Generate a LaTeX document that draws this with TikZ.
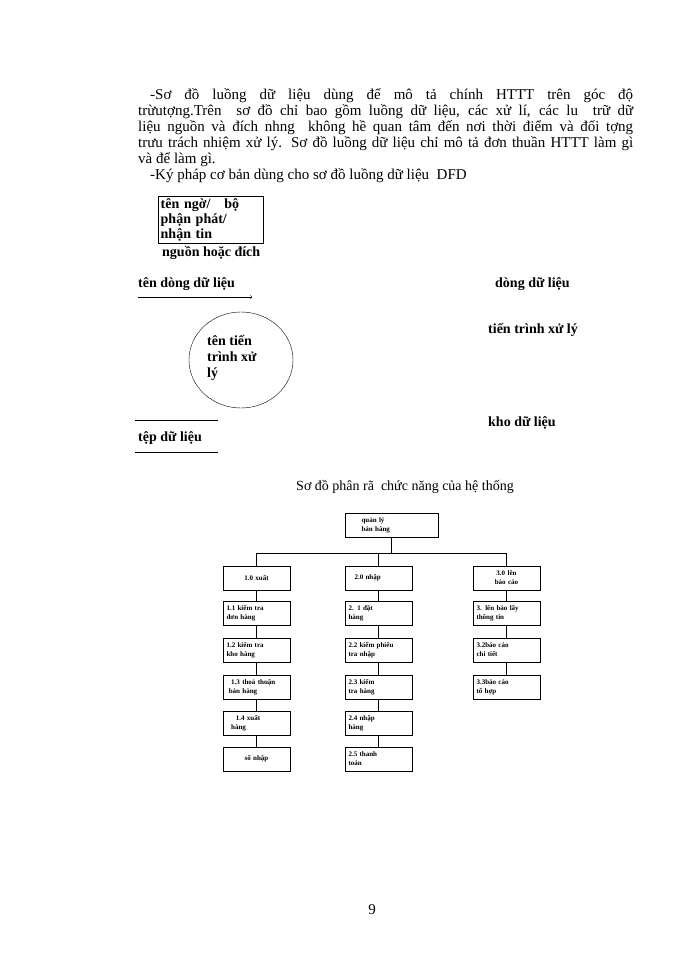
\documentclass[tikz,border=0pt]{standalone}
\usepackage{fontspec}
\setmainfont{Liberation Serif}
\usetikzlibrary{shapes.geometric}
\begin{document}
\begin{tikzpicture}[x=1pt,y=-1pt,
  tb/.style={draw,minimum width=67pt,minimum height=24pt,inner sep=1pt,font=\fontsize{7}{9}\selectfont\bfseries,align=left,text width=60pt},
  lbl/.style={font=\fontsize{14}{16}\selectfont\bfseries,anchor=west,inner sep=0pt}]
\useasboundingbox[fill=white] (0,0) rectangle (700,960);
\node[anchor=north west,text width=495pt,align=justify,inner sep=0pt,font=\fontsize{15}{16}\selectfont] (para) at (138,88)
{\hspace*{12pt}-Sơ đồ luồng dữ liệu dùng để mô tả chính HTTT trên góc độ\linebreak trừutợng.Trên\ \ sơ đồ chỉ bao gồm luồng dữ liệu, các xử lí, các lu\ \ trữ dữ\linebreak liệu nguồn và đích nhng\ \ không hề quan tâm đến nơi thời điểm và đối tợng\linebreak trưu trách nhiệm xử lý. Sơ đồ luồng dữ liệu chỉ mô tả đơn thuần HTTT làm gì\linebreak và để làm gì.\par
\hspace*{12pt}-Ký pháp cơ bản dùng cho sơ đồ luồng dữ liệu\ \ DFD};
\node[draw,anchor=north west,minimum width=105pt,minimum height=47pt,text width=100pt,inner sep=2pt,align=left,font=\fontsize{14}{15}\selectfont\bfseries] (src) at (158,196) {tên ngờ/\ \ \ bộ\\ phận phát/\\ nhận tin};
\node[lbl] (srcl) at (162,253) {nguồn hoặc đích};
\node[lbl] (flow) at (138,284) {tên dòng dữ liệu};
\coordinate (fa) at (138,297); \coordinate (fb) at (252,297);
\draw[->] (fa) -- (fb);
\node[lbl] (flowl) at (495,284) {dòng dữ liệu};
\node[draw,ellipse,minimum width=104pt,minimum height=96pt] (proc) at (241,360) {};
\node[lbl,anchor=north west,align=left,font=\fontsize{14}{16}\selectfont\bfseries] (proct) at (207,335) {tên tiến\\ trình xử\\ lý};
\node[lbl] (procl) at (488,330) {tiến trình xử lý};
\coordinate (s1a) at (135,420); \coordinate (s1b) at (218,420);
\coordinate (s2a) at (135,452); \coordinate (s2b) at (218,452);
\draw (s1a) -- (s1b); \draw (s2a) -- (s2b);
\node[lbl] (store) at (138,438) {tệp dữ liệu};
\node[lbl] (storel) at (488,423) {kho dữ liệu};
\node[font=\fontsize{14}{16}\selectfont] (title) at (405,487) {Sơ đồ phân rã\ \ chức năng của hệ thống};
% tree
\node[tb,minimum width=93pt,text width=60pt] (r) at (391.5,525) {quản lý\\ bán hàng};
\node[tb,align=center] (a0) at (256.5,578) {1.0 xuất};
\node[tb] (b0) at (378.5,578) {\hspace*{6pt}2.0 nhập};
\node[tb,align=center] (c0) at (506.5,578) {3.0 lên\\ báo cáo};
\node[tb] (a1) at (256.5,613) {1.1 kiểm tra\\ đơn hàng};
\node[tb] (a2) at (256.5,650) {1.2 kiểm tra\\ kho hàng};
\node[tb] (a3) at (256.5,687) {\ \ 1.3 thoả thuận\\ \ bán hàng};
\node[tb] (a4) at (256.5,723) {\ \ \ \ 1.4 xuất\\ \ \ hàng};
\node[tb,align=center] (a5) at (256.5,759) {sổ nhập};
\node[tb] (b1) at (378.5,613) {2. 1 đặt\\ hàng};
\node[tb] (b2) at (378.5,650) {2.2 kiểm phiếu\\ tra nhập};
\node[tb] (b3) at (378.5,687) {2.3 kiểm\\ tra hàng};
\node[tb] (b4) at (378.5,723) {2.4 nhập\\ hàng};
\node[tb] (b5) at (378.5,759) {2.5 thanh\\ toán};
\node[tb] (c1) at (506.5,613) {3. lên báo lấy\\ thông tin};
\node[tb] (c2) at (506.5,650) {3.2báo cáo\\ chi tiết};
\node[tb] (c3) at (506.5,687) {3.3báo cáo\\ tổ hợp};
\draw (r.south) -- ++(0,16) -| (a0.north);
\draw (r.south) -- ++(0,16) -| (c0.north);
\draw (r.south) -- ++(0,16) -| (b0.north);
\foreach \p/\q in {a0/a1,a1/a2,a2/a3,a3/a4,a4/a5,b0/b1,b1/b2,b2/b3,b3/b4,b4/b5,c0/c1,c1/c2,c2/c3}
  \draw (\p.south) -- (\q.north);
\node[font=\fontsize{15}{17}\selectfont] (pg) at (372,910) {9};
\end{tikzpicture}
\end{document}
